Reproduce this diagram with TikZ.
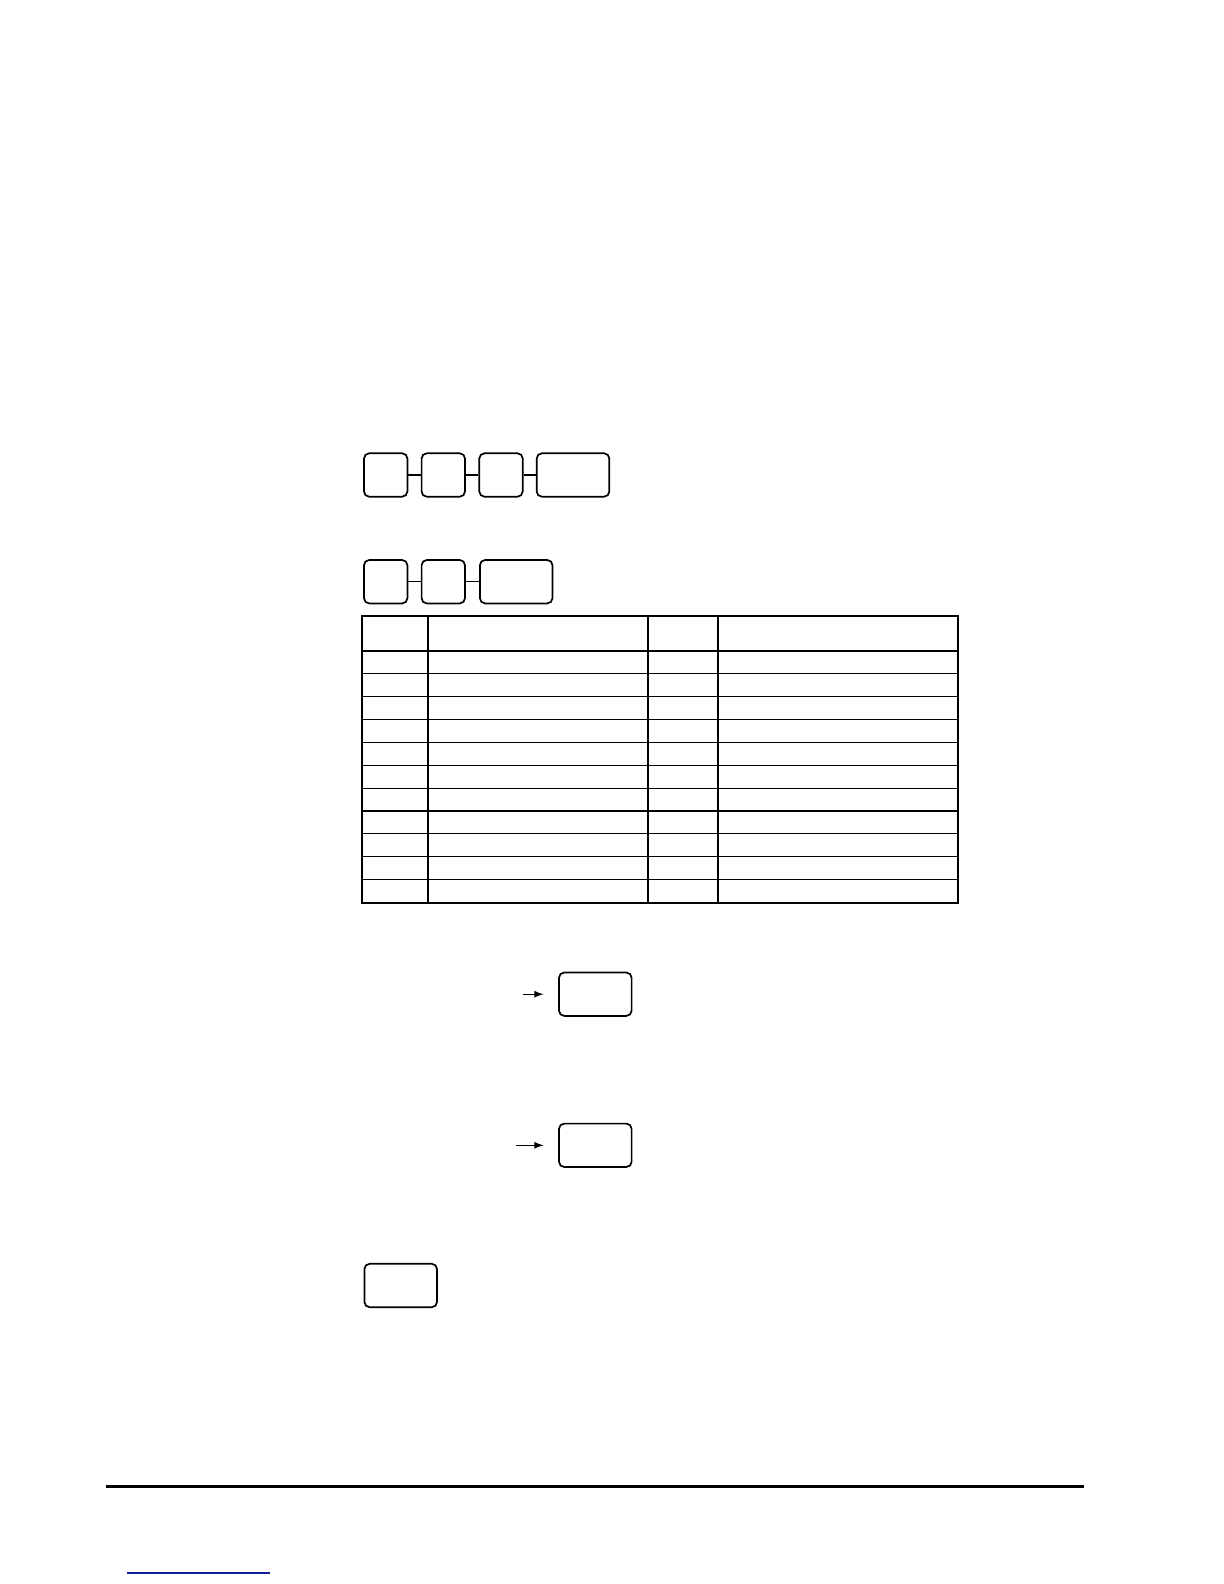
\documentclass[tikz,border=0pt]{standalone}
\usepackage{tikz}
\usetikzlibrary{arrows,positioning}
\definecolor{linkblue}{RGB}{20,30,150}
\tikzstyle{keybox} = [rectangle, rounded corners=2.6pt, minimum width=21.7pt, minimum height=21.7pt, draw=black, line width=0.85pt, inner sep=0pt]
\tikzstyle{widekey} = [keybox, minimum width=36.3pt]
\tikzstyle{link} = [line width=0.6pt]
\tikzstyle{arrow} = [line width=0.6pt,->,>=latex,shorten >=7.3pt]
\tikzstyle{grid} = [line width=0.55pt]
\tikzstyle{gridthick} = [line width=1pt]

\begin{document}
\begin{tikzpicture}[x=0.5pt,y=-0.5pt]
\useasboundingbox (0,0) rectangle (1224,1584);

% first key sequence
\node[keybox] (ka) at (385.7,475) {};
\node[keybox] (kb) at (443.3,475) {};
\node[keybox] (kc) at (501,475) {};
\node[widekey] (kd) at (573,475) {};
\draw[link] (ka) -- (kb);
\draw[link] (kb) -- (kc);
\draw[link] (kc) -- (kd);

% second key sequence
\node[keybox] (ma) at (385.7,581.7) {};
\node[keybox] (mb) at (443.3,581.7) {};
\node[widekey] (mc) at (516.2,581.7) {};
\draw[link] (ma) -- (mb);
\draw[link] (mb) -- (mc);

% table
\foreach \i in {1,...,10}
  \draw[grid] (361.7,651+22.86*\i) -- (958,651+22.86*\i);
\foreach \x in {428,718}
  \draw[grid] (\x,615.7) -- (\x,902.5);
\draw[gridthick] (648,615.7) -- (648,902.5);
\draw[gridthick] (361.7,651) -- (958,651);
\draw[gridthick] (361.7,615.7) rectangle (958,902.5);

% single keys with arrows
\node[widekey] (boxa) at (595.3,994.2) {};
\coordinate (arra) at (522.7,994.2);
\draw[arrow] (arra) -- (boxa);

\node[widekey] (boxb) at (595.3,1145.3) {};
\coordinate (arrb) at (516,1145.3);
\draw[arrow] (arrb) -- (boxb);

\node[widekey] (boxc) at (400.7,1285.5) {};

% page footer rule and link
\coordinate (rulel) at (106,1486.6);
\coordinate (ruler) at (1084,1486.6);
\draw[line width=1.2pt] (rulel) -- (ruler);
\coordinate (linkl) at (127,1573);
\coordinate (linkr) at (269.5,1573);
\draw[linkblue, line width=0.6pt] (linkl) -- (linkr);
\end{tikzpicture}
\end{document}
